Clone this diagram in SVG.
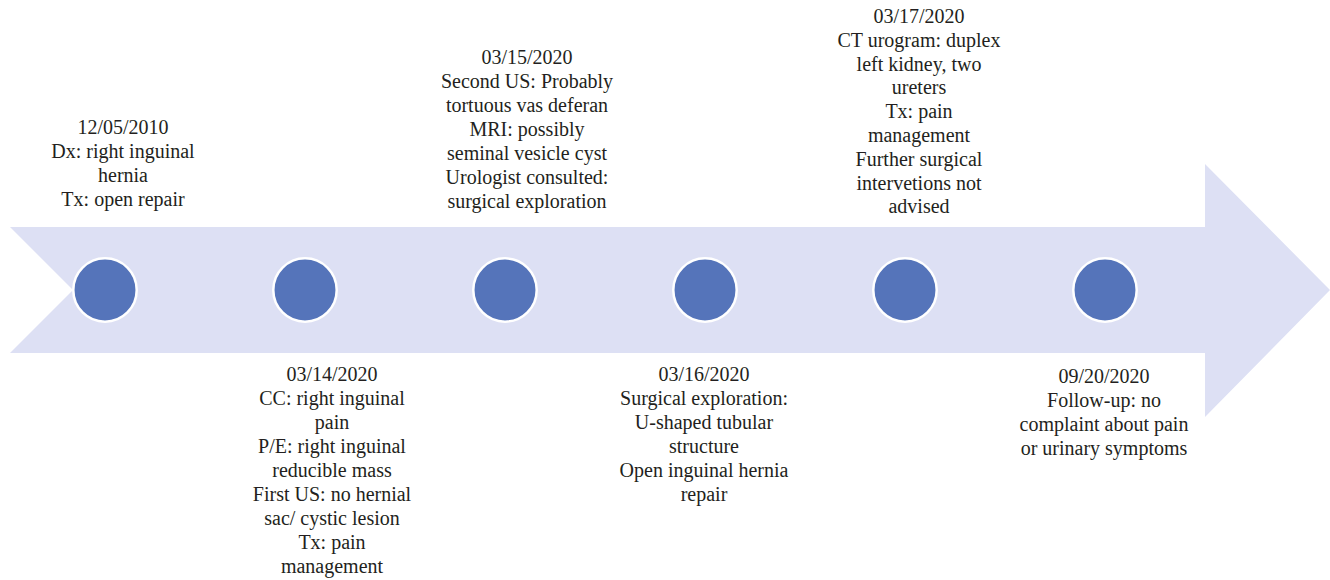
<svg xmlns="http://www.w3.org/2000/svg" width="1330" height="580" viewBox="0 0 1330 580">
<style>
  .band { fill: #DDE0F4; }
  .dot { fill: #5574BA; stroke: #FFFFFF; stroke-width: 2.5; }
  .lbl { font-family: "Liberation Serif", "Times New Roman", serif; font-size: 20px; fill: #231F20; text-anchor: middle; }
</style>
<rect width="1330" height="580" fill="#FFFFFF"/>
<g id="connectors">
  <polygon class="band" points="10,227 1205,227 1205,164 1330,290 1205,417 1205,353 10,353 73,290"/>
</g>
<g id="node1">
  <circle class="dot" cx="105" cy="290" r="31.7"/>
  <text class="lbl" x="123" y="134">12/05/2010<tspan x="123" dy="24">Dx: right inguinal</tspan><tspan x="123" dy="24">hernia</tspan><tspan x="123" dy="24">Tx: open repair</tspan></text>
</g>
<g id="node2">
  <circle class="dot" cx="305" cy="290" r="31.7"/>
  <text class="lbl" x="332" y="381">03/14/2020<tspan x="332" dy="24">CC: right inguinal</tspan><tspan x="332" dy="24">pain</tspan><tspan x="332" dy="24">P/E: right inguinal</tspan><tspan x="332" dy="24">reducible mass</tspan><tspan x="332" dy="24">First US: no hernial</tspan><tspan x="332" dy="24">sac/ cystic lesion</tspan><tspan x="332" dy="24">Tx: pain</tspan><tspan x="332" dy="24">management</tspan></text>
</g>
<g id="node3">
  <circle class="dot" cx="505" cy="290" r="31.7"/>
  <text class="lbl" x="527" y="64">03/15/2020<tspan x="527" dy="24">Second US: Probably</tspan><tspan x="527" dy="24">tortuous vas deferan</tspan><tspan x="527" dy="24">MRI: possibly</tspan><tspan x="527" dy="24">seminal vesicle cyst</tspan><tspan x="527" dy="24">Urologist consulted:</tspan><tspan x="527" dy="24">surgical exploration</tspan></text>
</g>
<g id="node4">
  <circle class="dot" cx="705" cy="290" r="31.7"/>
  <text class="lbl" x="704" y="381">03/16/2020<tspan x="704" dy="24">Surgical exploration:</tspan><tspan x="704" dy="24">U-shaped tubular</tspan><tspan x="704" dy="24">structure</tspan><tspan x="704" dy="24">Open inguinal hernia</tspan><tspan x="704" dy="24">repair</tspan></text>
</g>
<g id="node5">
  <circle class="dot" cx="905" cy="290" r="31.7"/>
  <text class="lbl" x="919" y="23">03/17/2020<tspan x="919" dy="23.8">CT urogram: duplex</tspan><tspan x="919" dy="23.8">left kidney, two</tspan><tspan x="919" dy="23.8">ureters</tspan><tspan x="919" dy="23.8">Tx: pain</tspan><tspan x="919" dy="23.8">management</tspan><tspan x="919" dy="23.8">Further surgical</tspan><tspan x="919" dy="23.8">intervetions not</tspan><tspan x="919" dy="23.8">advised</tspan></text>
</g>
<g id="node6">
  <circle class="dot" cx="1105" cy="290" r="31.7"/>
  <text class="lbl" x="1104" y="383">09/20/2020<tspan x="1104" dy="24">Follow-up: no</tspan><tspan x="1104" dy="24">complaint about pain</tspan><tspan x="1104" dy="24">or urinary symptoms</tspan></text>
</g>
</svg>
